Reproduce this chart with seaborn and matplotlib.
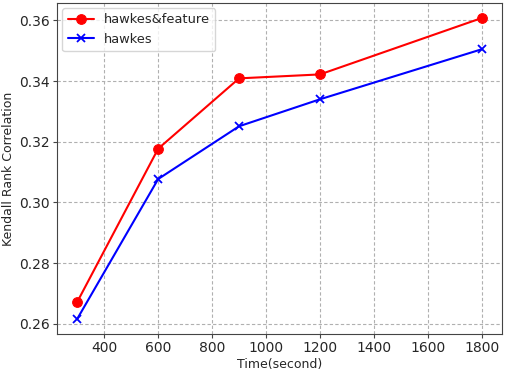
import pandas as pd
import matplotlib
matplotlib.use('Agg')
import matplotlib.pyplot as plt
import seaborn as sns

# data
time_sec = [300, 600, 900, 1200, 1800]
hawkes_feature = [0.2672, 0.3177, 0.3409, 0.3422, 0.3608]
hawkes = [0.2616, 0.3077, 0.3251, 0.3340, 0.3505]

sns.set_style('ticks')
plt.rcParams['font.family'] = ['DejaVu Sans']

fig, ax = plt.subplots(figsize=(5.05, 3.73), dpi=100)

sns.lineplot(x=time_sec, y=hawkes_feature, ax=ax, color='red', marker='o',
             markersize=7, markeredgecolor='red', linewidth=1.5, label='hawkes&feature')
sns.lineplot(x=time_sec, y=hawkes, ax=ax, color='blue', marker='x',
             markersize=6, markeredgecolor='blue', markeredgewidth=1.3,
             linewidth=1.5, label='hawkes')

ax.grid(True, linestyle=(0, (3, 2)), color='#b0b0b0', linewidth=0.8)
ax.set_xlabel('Time(second)', fontsize=9, labelpad=2)
ax.set_ylabel('Kendall Rank Correlation', fontsize=9, labelpad=3)
ax.tick_params(labelsize=10, color='#444444', pad=2.5, length=3)
for s in ax.spines.values():
    s.set_color('#444444')
ax.legend(loc='upper left', fontsize=9.4, borderaxespad=0.4)

fig.subplots_adjust(left=0.113, right=0.994, top=0.992, bottom=0.105)
plt.savefig('out.png', dpi=100)
